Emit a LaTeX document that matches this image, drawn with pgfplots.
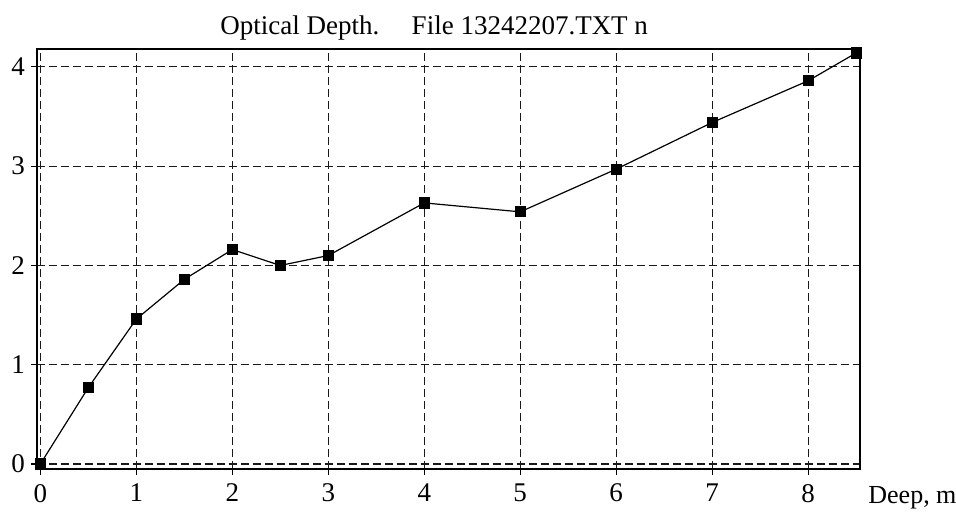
\documentclass[border=0pt]{standalone}
\usepackage{pgfplots}
\pgfplotsset{compat=1.18}
\usepackage{fontspec}
\setmainfont{Liberation Serif}
\begin{document}
\begin{tikzpicture}
\begin{axis}[
  scale only axis,
  width=411.5pt, height=210pt,
  xmin=-0.035, xmax=8.54,
  ymin=-0.05, ymax=4.18,
  xtick={0,1,...,8}, ytick={0,1,2,3,4},
  tick align=outside,
  tick pos=left,
  major tick length=3pt,
  axis line style={line width=0.7pt},
  tick style={line width=0.6pt, black},
  grid=major,
  major grid style={dash pattern=on 4pt off 2pt, line width=0.6pt, black!90},
  /pgf/number format/assume math mode=true,
  ticklabel style={font=\fontsize{13.5}{15}\selectfont},
  xticklabel style={yshift=-1pt},
  yticklabel style={xshift=0.5pt},
  clip=false,
]
\addplot[black, line width=0.6pt, mark=square*, mark size=2.5pt,
  mark options={solid, fill=black}] coordinates {
  (0,0) (0.5,0.77) (1,1.46) (1.5,1.86) (2,2.16) (2.5,2.0)
  (3,2.10) (4,2.63) (5,2.54) (6,2.97) (7,3.44) (8,3.86) (8.5,4.14)
};
\node[anchor=base west, font=\fontsize{13}{15}\selectfont, inner sep=0pt]
  at ([xshift=4pt,yshift=-17pt]rel axis cs:1,0) {Deep, m};
\node[anchor=base west, font=\fontsize{13.5}{16}\selectfont, inner sep=0pt]
  at ([xshift=91.5pt,yshift=7.5pt]rel axis cs:0,1) {Optical Depth.\hspace{1.2em}File 13242207.TXT n};
% page frame around the axis and its labels
\coordinate (frameBL) at ([xshift=-18.5pt,yshift=-21.5pt]rel axis cs:0,0);
\coordinate (frameTR) at ([xshift=48pt,yshift=24.5pt]rel axis cs:1,1);
\end{axis}
\pgfresetboundingbox
\path[use as bounding box] (frameBL) rectangle (frameTR);
\end{tikzpicture}
\end{document}
